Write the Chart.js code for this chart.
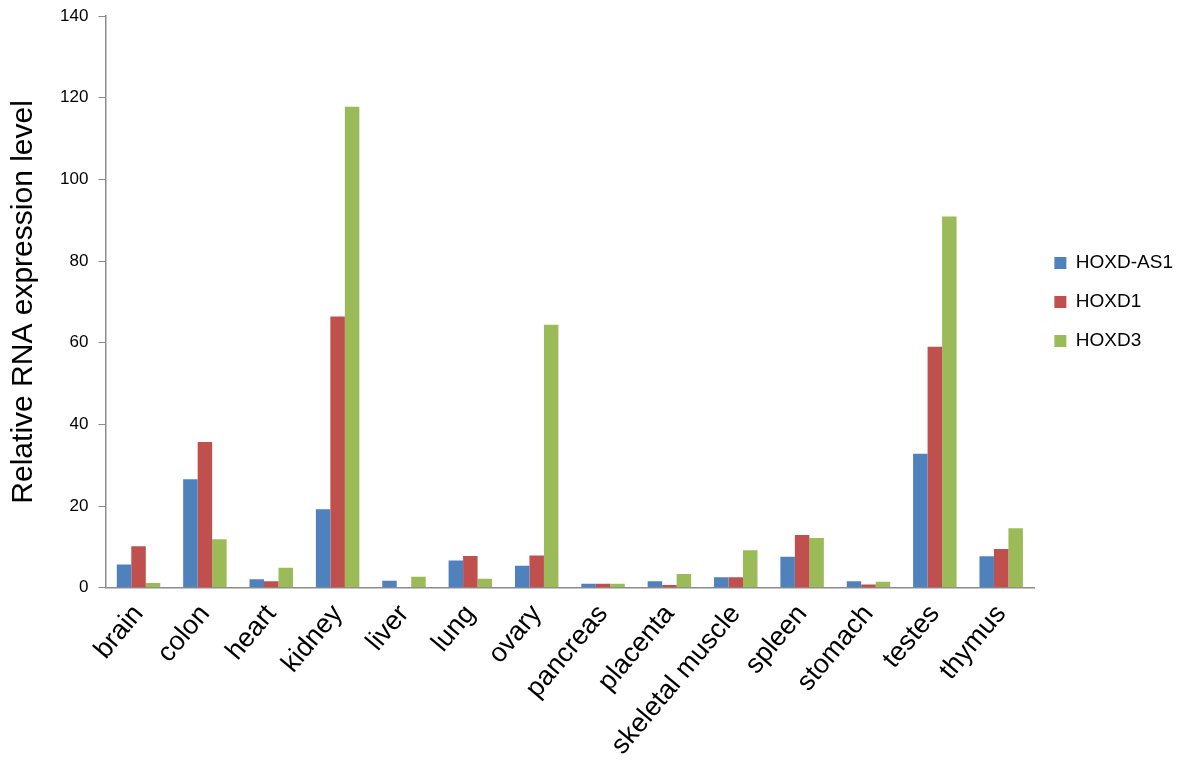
<!DOCTYPE html>
<html>
<head>
<meta charset="utf-8">
<script src="https://cdn.jsdelivr.net/npm/chart.js@4"></script>
<style>
  html, body { margin: 0; padding: 0; background: #fff; }
  #wrap { width: 1200px; height: 764px; }
</style>
</head>
<body>
<div id="wrap"><canvas id="chart" width="1200" height="764"></canvas></div>
<script>
const tissues = ['brain', 'colon', 'heart', 'kidney', 'liver', 'lung', 'ovary', 'pancreas',
  'placenta', 'skeletal muscle', 'spleen', 'stomach', 'testes', 'thymus'];
const hoxdAs1 = [5.7, 26.6, 2.1, 19.2, 1.7, 6.7, 5.4, 1.0, 1.6, 2.6, 7.6, 1.6, 32.8, 7.7];
const hoxd1 = [10.2, 35.7, 1.6, 66.4, 0, 7.8, 7.9, 1.0, 0.7, 2.6, 12.9, 0.8, 59.0, 9.5];
const hoxd3 = [1.2, 11.9, 4.9, 117.8, 2.7, 2.2, 64.4, 1.0, 3.4, 9.2, 12.2, 1.5, 90.9, 14.6];
const yTicks = [0, 20, 40, 60, 80, 100, 120, 140];

const font = "'Liberation Sans', Arial, sans-serif";

new Chart(document.getElementById('chart'), {
  type: 'bar',
  data: {
    labels: tissues,
    datasets: [
      { label: 'HOXD-AS1', data: hoxdAs1, backgroundColor: '#4f81bd' },
      { label: 'HOXD1', data: hoxd1, backgroundColor: '#c0504d' },
      { label: 'HOXD3', data: hoxd3, backgroundColor: '#9bbb59' }
    ]
  },
  options: {
    responsive: false,
    animation: false,
    layout: { padding: { top: 16, right: 17, left: 6, bottom: 0 } },
    datasets: { bar: { barPercentage: 1, categoryPercentage: 0.655 } },
    plugins: {
      tooltip: { enabled: false },
      legend: {
        position: 'right',
        fullSize: false,
        labels: {
          boxWidth: 12,
          boxHeight: 12,
          padding: 20,
          color: '#000',
          font: { family: font, size: 19 }
        }
      }
    },
    scales: {
      x: {
        grid: { display: false },
        border: { color: '#8c8c8c', width: 1.5 },
        ticks: {
          color: '#000',
          minRotation: 50,
          maxRotation: 50,
          autoSkip: false,
          font: { family: font, size: 27 }
        }
      },
      y: {
        min: 0,
        max: 140,
        afterBuildTicks: axis => { axis.ticks = yTicks.map(v => ({ value: v })); },
        // tick padding would otherwise push the plot top down
        afterFit: axis => { axis.paddingTop = 0; },
        grid: { drawOnChartArea: false, drawTicks: true, tickLength: 7, color: '#8c8c8c' },
        border: { color: '#8c8c8c', width: 1.5 },
        ticks: { color: '#000', padding: 10, font: { family: font, size: 17 } },
        title: {
          display: true,
          text: 'Relative RNA expression level',
          color: '#000',
          padding: { top: 0, bottom: 8 },
          font: { family: font, size: 30 }
        }
      }
    }
  }
});
</script>
</body>
</html>
